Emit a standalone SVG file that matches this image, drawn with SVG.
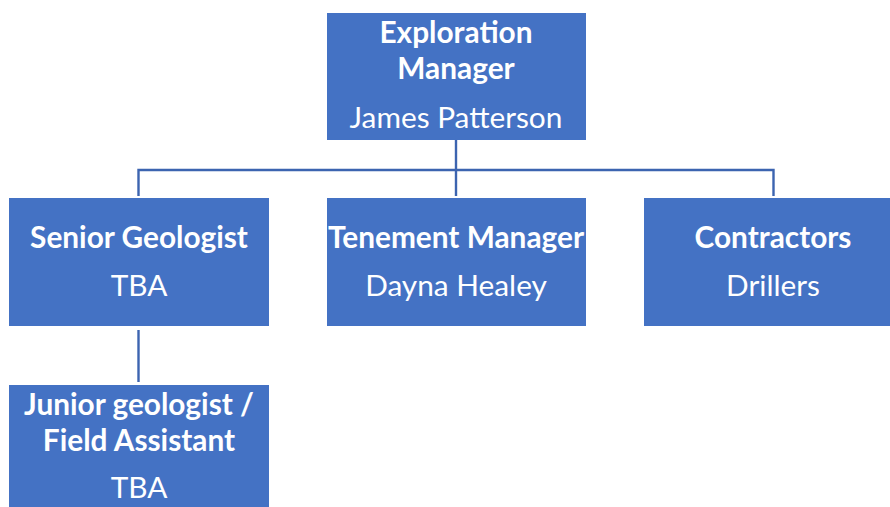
<svg xmlns="http://www.w3.org/2000/svg" width="890" height="507" viewBox="0 0 890 507">
<style>
.box{fill:#4472C4;}
.t{font-family:Lato,"Liberation Sans",sans-serif;font-size:29.8px;fill:#fff;text-anchor:middle;}
.b{font-weight:bold;}
.c{stroke:#3C64B0;stroke-width:2.4;fill:none;}
</style>
<rect width="890" height="507" fill="#fff"/>
<g id="connectors">
<line class="c" x1="456" y1="140" x2="456" y2="196"/>
<polyline class="c" points="138.5,196 138.5,170 773.5,170 773.5,196"/>
<line class="c" x1="138.5" y1="330" x2="138.5" y2="382"/>
</g>
<g id="exploration-manager">
<rect class="box" x="327" y="13" width="259" height="127"/>
<text class="t b" x="456" y="43">Exploration</text>
<text class="t b" x="456" y="79">Manager</text>
<text class="t" x="456" y="128">James Patterson</text>
</g>
<g id="senior-geologist">
<rect class="box" x="9" y="198" width="260" height="128"/>
<text class="t b" x="139" y="248">Senior Geologist</text>
<text class="t" x="139" y="296">TBA</text>
</g>
<g id="tenement-manager">
<rect class="box" x="327" y="198" width="259" height="128"/>
<text class="t b" x="456" y="248">Tenement Manager</text>
<text class="t" x="456" y="296">Dayna Healey</text>
</g>
<g id="contractors">
<rect class="box" x="644" y="198" width="246" height="128"/>
<text class="t b" x="773" y="248">Contractors</text>
<text class="t" x="773" y="296">Drillers</text>
</g>
<g id="junior-geologist">
<rect class="box" x="9" y="385" width="260" height="122"/>
<text class="t b" x="139" y="415">Junior geologist /</text>
<text class="t b" x="139" y="451">Field Assistant</text>
<text class="t" x="139" y="498">TBA</text>
</g>
</svg>
